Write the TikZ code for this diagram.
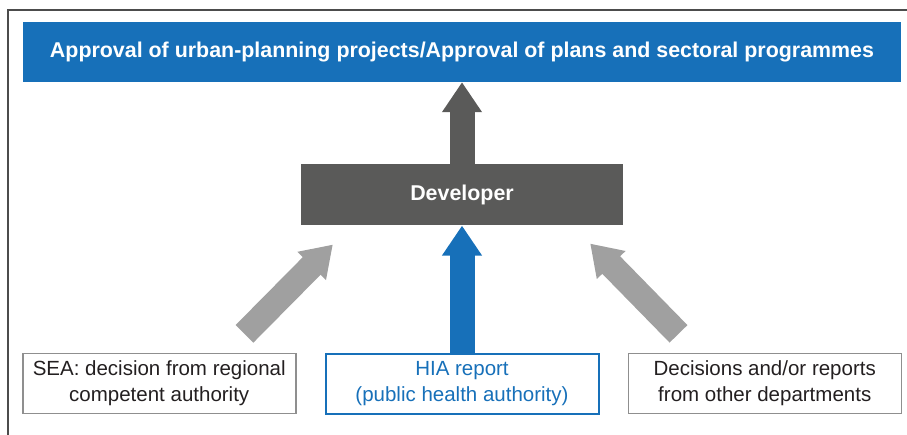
\documentclass[tikz,border=0pt]{standalone}
\usepackage{fontspec}
\setmainfont{Liberation Sans}
\usetikzlibrary{positioning,calc,arrows.meta}
\definecolor{hiablue}{HTML}{1770B9}
\definecolor{devgray}{HTML}{5A5A59}
\definecolor{arrowgray}{HTML}{A0A0A0}
\definecolor{boxgray}{HTML}{8F8F8F}
\definecolor{textgray}{HTML}{231F20}

\begin{document}
\begin{tikzpicture}[x=1pt,y=-1pt,every node/.style={font=\fontsize{20.5}{26}\selectfont,align=center,inner sep=0pt},
    srcbox/.style={draw=boxgray,line width=1.5pt,text=textgray,minimum width=273pt,minimum height=60pt},
    bigarrow/.style={line width=25pt,-{Triangle[width=38pt,length=30pt]}}]
    \useasboundingbox (0,0) rectangle (907,435);
    \draw[line width=1.2pt,black!70] (8,435) |- (907,10);
    \node[fill=hiablue,text=white,font=\bfseries\fontsize{21.4}{26}\selectfont,minimum width=878pt,minimum height=60pt] (appr) at (462,52) {Approval of urban-planning projects/Approval of plans and sectoral programmes};
    \node[fill=devgray,text=white,font=\bfseries\fontsize{21.4}{26}\selectfont,minimum width=322pt,minimum height=61pt,below=82pt of appr] (dev) {Developer};
    \node[srcbox,draw=hiablue,line width=2pt,text=hiablue,below=127pt of dev] (hia) {HIA report\\(public health authority)};
    \node[srcbox,left=28pt of hia] (sea) {SEA: decision from regional\\competent authority};
    \node[srcbox,right=28pt of hia] (dept) {Decisions and/or reports\\from other departments};
    \draw[bigarrow,devgray] (dev.north) -- (appr.south);
    \draw[bigarrow,hiablue] (hia.north) -- (dev.south);
    \draw[bigarrow,arrowgray] ($(sea.north east)+(-52,-19)$) -- ($(dev.south west)+(32,19)$);
    \draw[bigarrow,arrowgray] ($(dept.north west)+(51,-19)$) -- ($(dev.south east)+(-33,18)$);
  \end{tikzpicture}
\end{document}
